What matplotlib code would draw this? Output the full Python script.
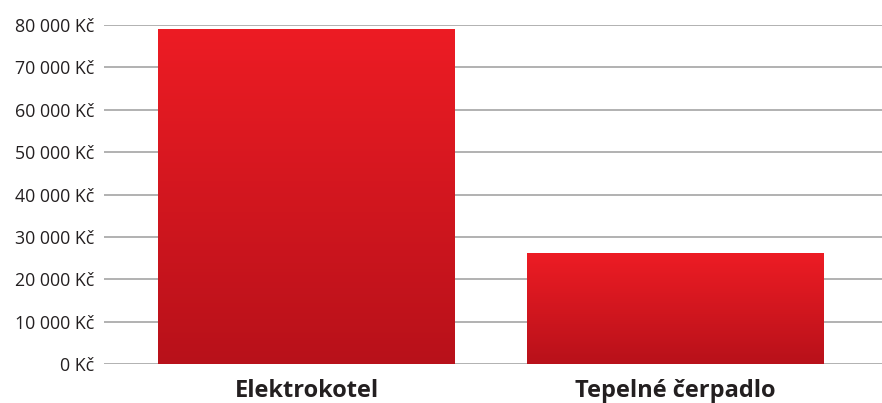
import matplotlib

matplotlib.use("Agg")
import matplotlib.pyplot as plt
import numpy as np
from matplotlib.colors import LinearSegmentedColormap

plt.rcParams["font.family"] = ["Open Sans", "DejaVu Sans"]

categories = ["Elektrokotel", "Tepelné čerpadlo"]
values = [79000, 26000]
yticks = [0, 10000, 20000, 30000, 40000, 50000, 60000, 70000, 80000]
ytick_labels = ["0 Kč", "10 000 Kč", "20 000 Kč", "30 000 Kč", "40 000 Kč",
                "50 000 Kč", "60 000 Kč", "70 000 Kč", "80 000 Kč"]

fig = plt.figure(figsize=(8.82, 4.03), dpi=100)
ax = fig.add_axes([104 / 882, 39 / 403, 1 - 104 / 882, 339 / 403])

x = np.arange(len(categories))
width = 0.805
bars = ax.bar(x, values, width=width, color="none", zorder=3)

# vertical red gradient inside each bar
cmap = LinearSegmentedColormap.from_list("red", ["#b8111a", "#ed1c24"])
grad = np.linspace(0, 1, 256).reshape(-1, 1)
for b in bars:
    x0, y0 = b.get_x(), b.get_y()
    ax.imshow(grad, cmap=cmap, origin="lower", aspect="auto",
              extent=[x0, x0 + b.get_width(), y0, y0 + b.get_height()],
              zorder=3)

ax.set_xlim(-0.549, 1.56)
ax.set_ylim(0, 80000)
ax.set_yticks(yticks)
ax.set_yticklabels(ytick_labels, fontsize=12.8, color="#231f20")
ax.set_xticks(x)
ax.set_xticklabels(categories, fontsize=17, fontweight="bold", color="#231f20")
ax.tick_params(axis="both", length=0)
ax.tick_params(axis="y", pad=7)
ax.tick_params(axis="x", pad=11)
ax.yaxis.grid(True, color="#ababab", linewidth=1.3, zorder=0)
ax.set_axisbelow(True)
for s in ax.spines.values():
    s.set_visible(False)

fig.savefig("out.png", dpi=100)
